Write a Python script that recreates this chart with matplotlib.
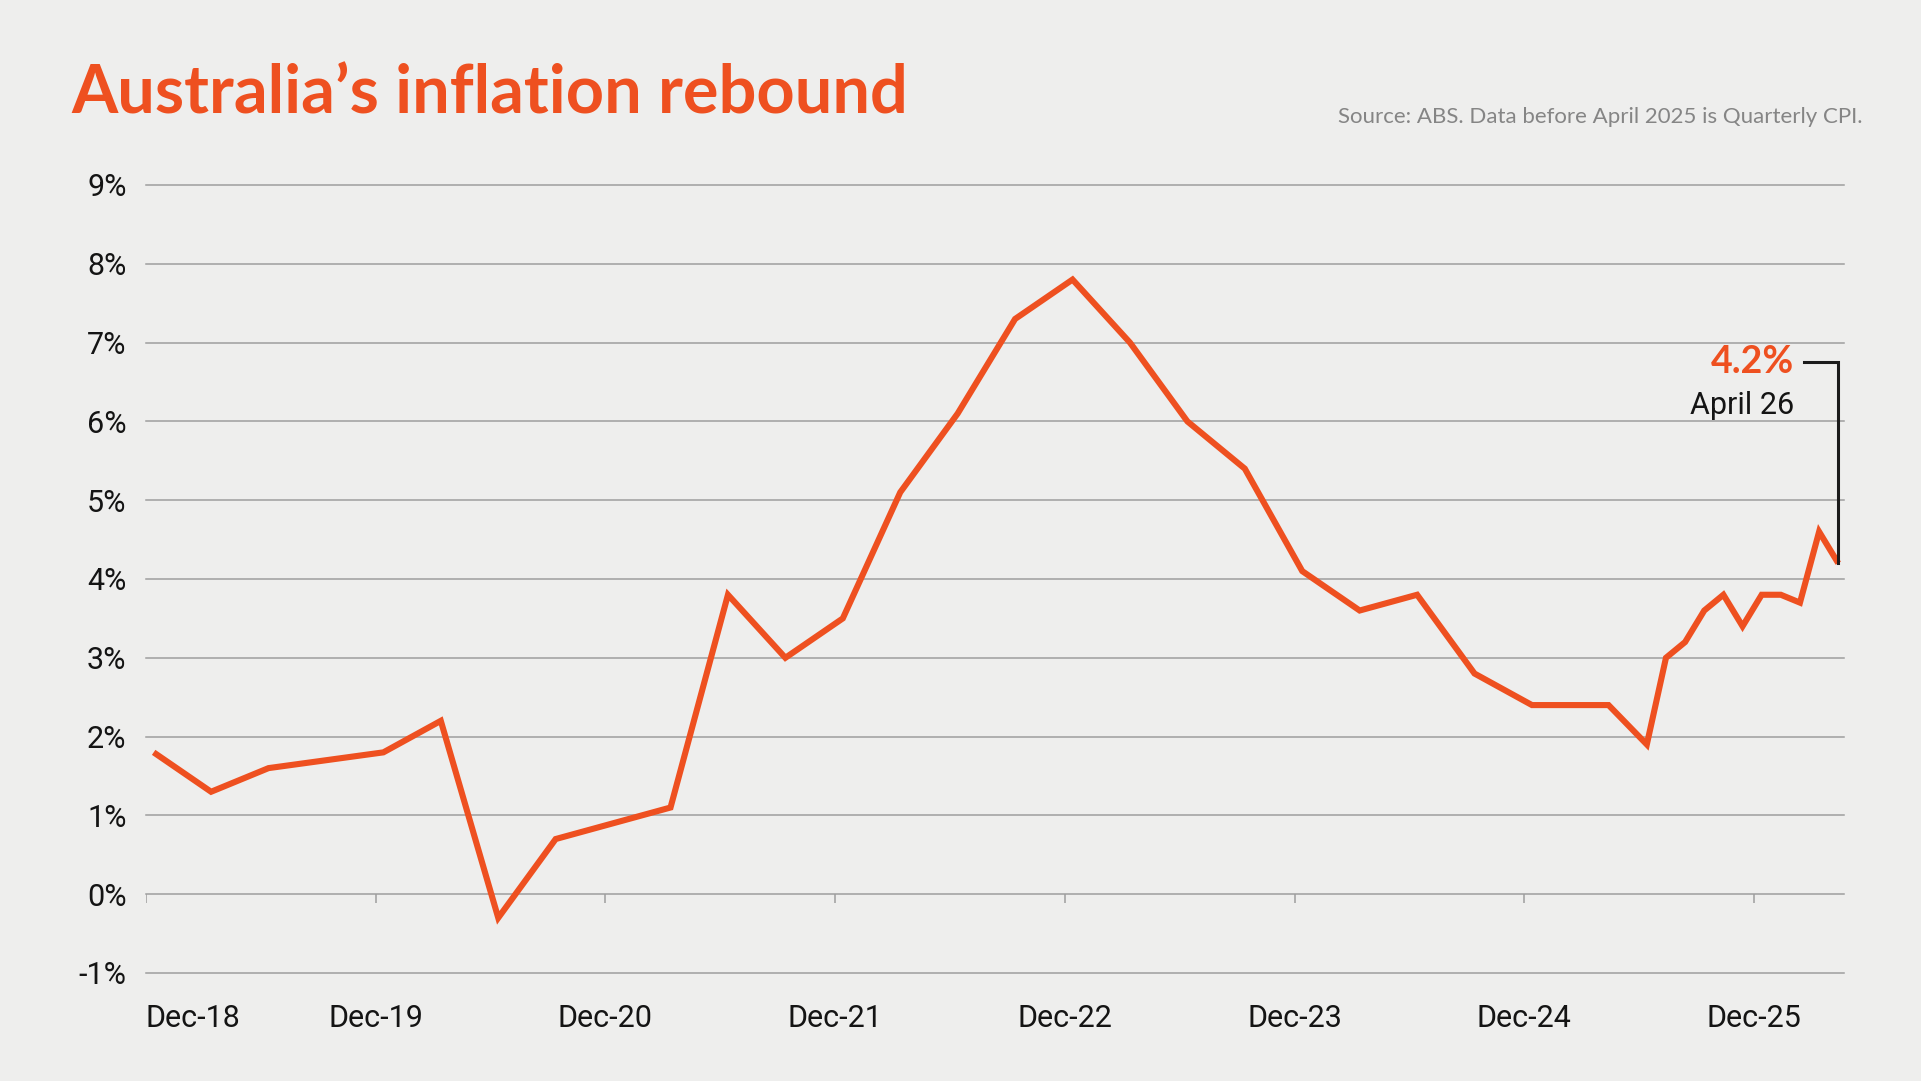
import matplotlib.pyplot as plt
import pandas as pd

# --- data ---
quarter_periods = ['2018-12', '2019-03', '2019-06', '2019-09', '2019-12', '2020-03', '2020-06',
                   '2020-09', '2020-12', '2021-03', '2021-06', '2021-09', '2021-12', '2022-03',
                   '2022-06', '2022-09', '2022-12', '2023-03', '2023-06', '2023-09', '2023-12',
                   '2024-03', '2024-06', '2024-09', '2024-12', '2025-03']
quarter_values = [1.8, 1.3, 1.6, 1.7, 1.8, 2.2, -0.3, 0.7, 0.9, 1.1, 3.8, 3.0, 3.5, 5.1,
                  6.1, 7.3, 7.8, 7.0, 6.0, 5.4, 4.1, 3.6, 3.8, 2.8, 2.4, 2.4]

month_periods = ['2025-04', '2025-05', '2025-06', '2025-07', '2025-08', '2025-09', '2025-10',
                 '2025-11', '2025-12', '2026-01', '2026-02', '2026-03', '2026-04']
month_values = [2.4, 2.15, 1.9, 3.0, 3.2, 3.6, 3.8, 3.4, 3.8, 3.8, 3.7, 4.6, 4.2]

tick_labels = ['Dec-18', 'Dec-19', 'Dec-20', 'Dec-21', 'Dec-22', 'Dec-23', 'Dec-24', 'Dec-25']
y_ticks = list(range(-1, 10))

ORANGE = '#EE5020'
BG = '#EEEEED'
GRID = '#9e9e9e'
INK = '#141414'
LABEL_FONT = ['Roboto', 'DejaVu Sans']
TITLE_FONT = ['Lato', 'DejaVu Sans']

# months since Dec-18 as the x axis
start = pd.Period('2018-12', 'M')
periods = quarter_periods + month_periods
x = [(pd.Period(p, 'M') - start).n for p in periods]
y = quarter_values + month_values
tick_pos = [12 * i - 0.4 for i in range(len(tick_labels))]

W, H = 1921, 1081
fig = plt.figure(figsize=(W / 100, H / 100), dpi=100, facecolor=BG)
ax = fig.add_axes([146 / W, (H - 973) / H, (1844 - 146) / W, (973 - 185) / H])
ax.set_facecolor('none')
ax.set_xlim(-0.4, 88.3)
ax.set_ylim(-1, 9)
for s in ax.spines.values():
    s.set_visible(False)

ax.set_yticks(y_ticks)
ax.set_yticklabels([f'{v}%' for v in y_ticks], family=LABEL_FONT, fontsize=22, color=INK)
ax.yaxis.grid(True, color=GRID, lw=1.1)
for gl in ax.get_ygridlines():
    gl.set_clip_on(False)
ax.tick_params(axis='y', length=0, pad=14)

ax.set_xticks(tick_pos)
ax.set_xticklabels(tick_labels, family=LABEL_FONT, fontsize=22, color=INK)
ax.get_xticklabels()[0].set_ha('left')
ax.tick_params(axis='x', length=0, pad=22)
# little tick marks hanging below the 0% line
ax.vlines(tick_pos, -0.11, 0, color=GRID, lw=1.1)

ax.plot(x, y, color=ORANGE, lw=4.4, solid_joinstyle='miter', solid_capstyle='butt', zorder=3)

# bracket + callout for the latest reading
last_x, last_y = x[-1], y[-1]
ax.plot([last_x - 1.8, last_x, last_x], [6.75, 6.75, last_y], color='#1b1b1b', lw=2.2,
        solid_joinstyle='miter', clip_on=False, zorder=4)
ax.text(last_x - 2.3, 6.75, f'{last_y:.1f}%', ha='right', va='center', color=ORANGE,
        fontsize=27, weight='bold', family=TITLE_FONT)
ax.text(last_x - 2.3, 6.2, 'April 26', ha='right', va='center', color=INK,
        fontsize=22, family=LABEL_FONT)

fig.text(71 / W, 1 - 113 / H, 'Australia\u2019s inflation rebound', ha='left', va='baseline',
         color=ORANGE, fontsize=48, weight='bold', family=TITLE_FONT)
fig.text(1862 / W, 1 - 123 / H, 'Source: ABS. Data before April 2025 is Quarterly CPI.',
         ha='right', va='baseline', color='#858585', fontsize=16, family=TITLE_FONT)

fig.savefig('out.png', dpi=100, facecolor=BG)
